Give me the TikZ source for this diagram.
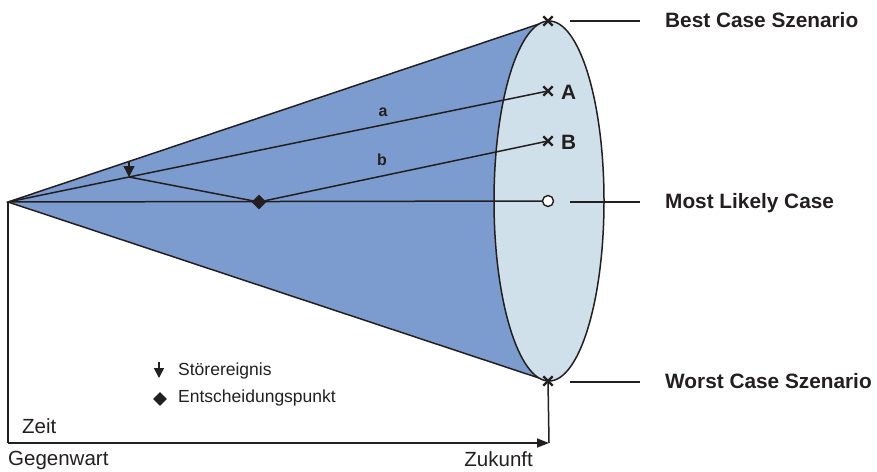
\documentclass[tikz,border=0pt]{standalone}
\usepackage{fontspec}
\setmainfont{Liberation Sans}
\usetikzlibrary{arrows.meta,positioning,shapes.geometric,shapes.misc}

\definecolor{conefill}{RGB}{124,156,207}
\definecolor{capfill}{RGB}{208,224,234}
\definecolor{ink}{RGB}{35,31,32}

\begin{document}
\begin{tikzpicture}[x=1pt,y=-1pt,
  ln/.style={line width=1.5pt,draw=ink},
  xm/.style={cross out,draw=ink,line width=2.4pt,minimum size=7pt,inner sep=0pt},
  lbl/.style={anchor=base west,inner sep=0pt,text=ink,
              font=\fontsize{20.8}{24}\selectfont\bfseries},
  sm/.style={anchor=base,inner sep=0pt,text=ink,
             font=\fontsize{16}{19}\selectfont\bfseries},
  lg/.style={anchor=base west,inner sep=0pt,text=ink,
             font=\fontsize{17.5}{21}\selectfont},
  tx/.style={inner sep=0pt,text=ink,font=\fontsize{20.5}{24}\selectfont},
  ar/.style={-{Triangle[length=12pt,width=9pt]},ln}]
\useasboundingbox (0,0) rectangle (877,471);
% cone
\coordinate (o) at (8,202);
\coordinate (top) at (548,21);
\coordinate (bot) at (548,381);
\fill[conefill] (o) -- (top) -- (bot) -- cycle;
\draw[ln] (top) -- (o) -- (bot);
\node[ellipse,draw=ink,line width=1.5pt,fill=capfill,minimum width=110pt,
      minimum height=360pt,inner sep=0pt] (cap) at (549,201) {};
% scenario points
\node[xm] (best) at (548,21) {};
\node[xm] (pa) at (548,91) {};
\node[xm] (pb) at (548,141) {};
\node[xm] (worst) at (548,381) {};
\node[circle,draw=ink,line width=1.4pt,fill=white,minimum size=11pt,inner sep=0pt] (ml) at (548,201) {};
% paths
\coordinate (d) at (129,177);
\coordinate (dd) at (129,161);
\node[diamond,fill=ink,minimum size=15pt,inner sep=0pt] (e) at (259,202) {};
\draw[ln] (o) -- (d) -- (pa.center);
\draw[ln] (d) -- (e.center) -- (pb.center);
\draw[ln] (o) -- (ml);
\draw[ln,-{Triangle[length=11pt,width=11pt]}] (dd) -- (d);
\node[sm] (la) at (383,116) {a};
\node[sm] (lb) at (382,165) {b};
\node[lbl] (na) at (561,99) {A};
\node[lbl] (nb) at (561,149) {B};
% scenario labels
\foreach \n/\y/\t in {lbest/21/Best Case Szenario,lmost/202/Most Likely Case,lworst/382/Worst Case Szenario}{
  \node[lbl] (\n) at (665,\y+6.5) {\t};
  \draw[ln] (570,\y) -- (640,\y);
}
% time axis
\coordinate (t0) at (8,443);
\coordinate (t1) at (549,443);
\draw[ln] (o) -- (t0);
\draw[ar] (t0) -- (t1);
\draw[ln] (worst.center) -- (t1);
\node[tx,anchor=base west] (zeit) at (22,433) {Zeit};
\node[tx,anchor=base west] (now) at (8,465) {Gegenwart};
\node[tx,anchor=base east] (fut) at (533,466) {Zukunft};
% legend
\coordinate (g1) at (159,362);
\coordinate (g2) at (159,378);
\draw[ln,-{Triangle[length=10pt,width=10pt]}] (g1) -- (g2);
\node[diamond,fill=ink,minimum size=14pt,inner sep=0pt] (g3) at (160,399) {};
\node[lg] (lstor) at (178,375) {Störereignis};
\node[lg] (lent) at (178,402) {Entscheidungspunkt};
\end{tikzpicture}
\end{document}
